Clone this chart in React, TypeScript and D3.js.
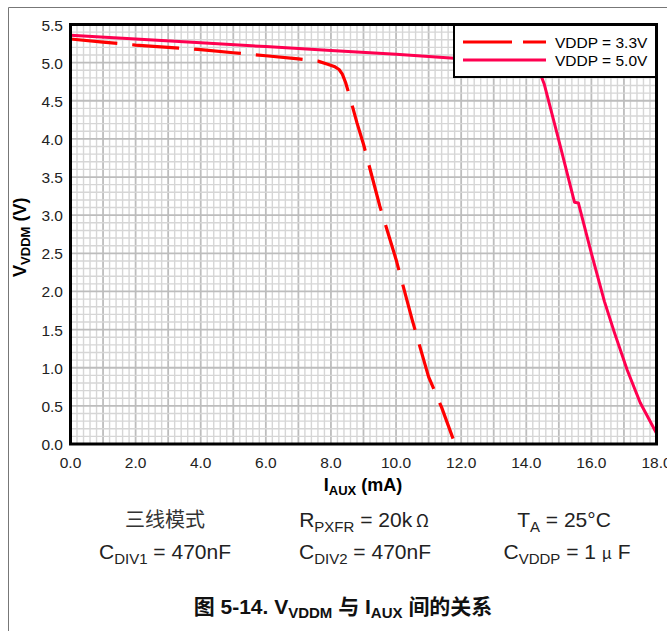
import React from "react";
import * as d3 from "d3";

// axis ticks
const xTicks = [0, 2, 4, 6, 8, 10, 12, 14, 16, 18];
const yTicks = [0, 0.5, 1, 1.5, 2, 2.5, 3, 3.5, 4, 4.5, 5, 5.5];

// VDDP = 3.3V (dashed)
const iaux33 = [0, 1, 2, 3, 4, 5, 6, 7, 7.6, 7.9, 8.1, 8.25, 8.35, 8.45, 8.6, 8.8, 9.0, 9.5, 10.0, 10.5, 11.0, 11.4, 11.75];
const vddm33 = [5.31, 5.27, 5.23, 5.2, 5.17, 5.13, 5.09, 5.05, 5.02, 4.98, 4.95, 4.91, 4.85, 4.74, 4.52, 4.21, 3.93, 3.12, 2.42, 1.62, 0.88, 0.48, 0.07];

// VDDP = 5.0V (solid)
const iaux50 = [0, 2, 4, 6, 8, 10, 12, 13, 14, 14.25, 14.4, 14.55, 15.0, 15.48, 15.6, 16.0, 16.4, 16.7, 17.1, 17.5, 18.0];
const vddm50 = [5.36, 5.31, 5.26, 5.21, 5.16, 5.11, 5.05, 5.02, 4.99, 4.96, 4.89, 4.72, 3.98, 3.17, 3.16, 2.5, 1.87, 1.47, 0.97, 0.54, 0.14];

const FONT = "'Liberation Sans', Arial, sans-serif";
const CJK = "'Noto Sans CJK SC', sans-serif";

const App = () => {
  const width = 667;
  const height = 631;
  const plot = { left: 70.5, top: 24.5, right: 656.5, bottom: 444 };

  const x = d3.scaleLinear().domain([0, 18]).range([plot.left, plot.right]);
  const y = d3.scaleLinear().domain([0, 5.5]).range([plot.bottom, plot.top]);

  const line = d3
    .line<[number, number]>()
    .x((d) => x(d[0]))
    .y((d) => y(d[1]))
    .curve(d3.curveLinear);

  const pts33 = iaux33.map((v, i) => [v, vddm33[i]] as [number, number]);
  const pts50 = iaux50.map((v, i) => [v, vddm50[i]] as [number, number]);

  const xMinor = d3.range(0, 90.5, 1).map((i) => i / 5);
  const yMinor = d3.range(0, 55.5, 1).map((i) => i / 10);

  return (
    <svg width={width} height={height} style={{ position: "absolute", left: 0, top: 0 }}>
      <rect x={0} y={0} width={width} height={height} fill="#fff" />
      {/* outer frame */}
      <line x1={8.5} y1={7.5} x2={width} y2={7.5} stroke="#777" strokeWidth={1} />
      <line x1={8.5} y1={7.5} x2={8.5} y2={height} stroke="#777" strokeWidth={1} />

      <defs>
        <clipPath id="plotClip">
          <rect x={plot.left} y={plot.top} width={plot.right - plot.left} height={plot.bottom - plot.top} />
        </clipPath>
      </defs>

      {/* grid */}
      <g>
        {xMinor.map((v, i) => (
          <line
            key={"gx" + i}
            x1={x(v)}
            x2={x(v)}
            y1={plot.top}
            y2={plot.bottom}
            stroke={i % 5 === 0 ? "#bdbdbd" : "#d6d6d6"}
            strokeWidth={i % 5 === 0 ? 1.8 : 1.4}
          />
        ))}
        {yMinor.map((v, i) => (
          <line
            key={"gy" + i}
            x1={plot.left}
            x2={plot.right}
            y1={y(v)}
            y2={y(v)}
            stroke={i % 5 === 0 ? "#bdbdbd" : "#d6d6d6"}
            strokeWidth={i % 5 === 0 ? 1.8 : 1.4}
          />
        ))}
      </g>

      {/* curves */}
      <g clipPath="url(#plotClip)">
        <path d={line(pts50) || ""} fill="none" stroke="#ff0050" strokeWidth={3} strokeLinejoin="round" />
        <path
          d={line(pts33) || ""}
          fill="none"
          stroke="#ff0000"
          strokeWidth={3.2}
          strokeLinejoin="round"
          strokeDasharray="47,15"
        />
      </g>

      {/* plot frame */}
      <rect
        x={plot.left}
        y={plot.top}
        width={plot.right - plot.left}
        height={plot.bottom - plot.top}
        fill="none"
        stroke="#000"
        strokeWidth={3}
      />

      {/* legend */}
      <g fontFamily={FONT} fontSize={15.5} fill="#000">
        <rect x={454} y={25} width={202} height={52} fill="#fff" stroke="#000" strokeWidth={2} />
        <line x1={463} x2={546} y1={42} y2={42} stroke="#ff0000" strokeWidth={3.2} strokeDasharray="49,11" />
        <text x={555} y={47.5}>VDDP = 3.3V</text>
        <line x1={463} x2={546} y1={60} y2={60} stroke="#ff0050" strokeWidth={3} />
        <text x={555} y={65.5}>VDDP = 5.0V</text>
      </g>

      {/* tick labels */}
      <g fontFamily={FONT} fontSize={15.5} fill="#222">
        {yTicks.map((v) => (
          <text key={"yt" + v} x={63} y={y(v) + 6} textAnchor="end">
            {v.toFixed(1)}
          </text>
        ))}
        {xTicks.map((v) => (
          <text key={"xt" + v} x={x(v)} y={468} textAnchor="middle">
            {v.toFixed(1)}
          </text>
        ))}
      </g>

      {/* axis titles */}
      <text x={363} y={491} textAnchor="middle" fontFamily={FONT} fontSize={18} fontWeight="bold">
        I<tspan fontSize={13} dy={4}>AUX</tspan>
        <tspan dy={-4}> (mA)</tspan>
      </text>
      <text
        transform={`translate(26,${(plot.top + plot.bottom) / 2 + 3}) rotate(-90)`}
        textAnchor="middle"
        fontFamily={FONT}
        fontSize={18}
        fontWeight="bold"
      >
        V<tspan fontSize={13} dy={4}>VDDM</tspan>
        <tspan dy={-4}> (V)</tspan>
      </text>

      {/* conditions */}
      <g fontFamily={FONT} fontSize={21} fill="#222" textAnchor="middle">
        <text x={165} y={527} fontFamily={CJK} fontSize={20} fill="#333">三线模式</text>
        <text x={364} y={527}>
          R<tspan fontSize={15} dy={5}>PXFR</tspan>
          <tspan dy={-5}> = 20k</tspan>
          <tspan fontFamily={CJK} fontSize={17}> Ω</tspan>
        </text>
        <text x={564} y={527}>
          T<tspan fontSize={15} dy={5}>A</tspan>
          <tspan dy={-5}> = 25°C</tspan>
        </text>
        <text x={165} y={559}>
          C<tspan fontSize={15} dy={5}>DIV1</tspan>
          <tspan dy={-5}> = 470nF</tspan>
        </text>
        <text x={365} y={559}>
          C<tspan fontSize={15} dy={5}>DIV2</tspan>
          <tspan dy={-5}> = 470nF</tspan>
        </text>
        <text x={567} y={559}>
          C<tspan fontSize={15} dy={5}>VDDP</tspan>
          <tspan dy={-5}> = 1 </tspan>
          <tspan fontFamily={CJK} fontSize={16}>μ</tspan>
          <tspan> F</tspan>
        </text>
      </g>

      {/* caption */}
      <text x={343} y={614} textAnchor="middle" fontFamily={FONT} fontSize={21} fontWeight="bold" fill="#111">
        <tspan fontFamily={CJK}>图</tspan> 5-14. V<tspan fontSize={15} dy={4}>VDDM</tspan>
        <tspan dy={-4}> </tspan>
        <tspan fontFamily={CJK}>与</tspan> I<tspan fontSize={15} dy={4}>AUX</tspan>
        <tspan dy={-4}> </tspan>
        <tspan fontFamily={CJK}>间的关系</tspan>
      </text>
    </svg>
  );
};

export default App;
